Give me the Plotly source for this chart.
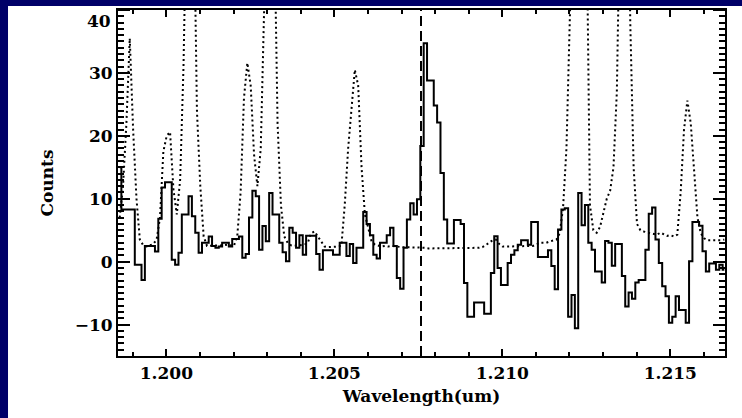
import plotly.graph_objects as go

# ---- data ----
wl_start = 1.19861      # centre of the first spectral bin (um)
wl_step = 0.0001        # bin width (um)
line_centre = 1.20758   # vertical dashed marker (um)

counts = [15, 8.3, 8.3, 8.3, 8.3, -0.5, -0.5, -2.9, 2.5, 2.5,
          2.5, 1.6, 6.8, 11.8, 12.6, 12.6, 0.3, -0.5, 1.4, 7.5,
          7.5, 10.4, 7.2, 4.6, 1.4, 3.0, 3.0, 4.0, 2.5, 2.2,
          2.4, 3.0, 3.0, 2.4, 3.6, 3.6, 4.0, 0.6, 1.2, 7.0,
          11.25, 10.4, 1.9, 5.65, 3.25, 10.9, 7.5, 7.5, 3.0, 1.5,
          0.05, 5.4, 4.6, 2.2, 4.2, 1.1, 4.1, 4.1, 4.1, 1.2,
          -1.3, 1.8, 1.8, 1.8, 1.1, 1.1, 3.0, 3.0, 0.9, 2.8,
          -0.2, 2.2, 2.2, 7.9, 6.0, 4.2, 1.1, 0.5, 3.0, 3.0,
          4.2, 5.4, 2.5, -2.6, -4.3, 2.2, 6.7, 9.3, 7.5, 9.9,
          18.4, 34.7, 28.8, 28.8, 24.8, 22.1, 14.1, 6.7, 2.9, 2.9,
          6.6, 6.6, 6.0, -3.4, -8.75, -8.75, -6.5, -6.5, -6.5, -8.3,
          -8.3, -1.8, 4.05, -1.0, -3.7, -3.7, -0.2, 1.1, 1.8, 2.7,
          3.4, 3.4, 2.7, 6.3, 6.3, 0.75, 0.75, 0.75, 1.8, -0.7,
          -4.4, 5.1, 8.3, 8.5, -8.75, -5.3, -10.6, 10.9, 5.8, 9.0,
          3.0, 1.9, -1.55, -1.55, -3.3, 3.3, 3.0, -0.65, 2.8, 2.8,
          -2.3, -7.15, -4.9, -5.9, -3.3, -2.9, -2.9, 1.9, 7.6, 8.6,
          3.5, -0.2, -3.9, -5.5, -9.7, -8.75, -5.5, -7.7, -7.7, -9.7,
          0.05, 6.3, 6.3, 5.7, 1.65, -1.55, -0.3, -0.3, -1.3, -0.5,
          -1.3]

sky = [7, 12, 22, 35.5, 21, 10, 3.5, 2.6, 2.4, 2.6,
       2.8, 3.5, 7.0, 17.5, 20.0, 20.6, 11.5, 7.5, 13.0, 31.0,
       60, 90, 60, 24, 12, 4.0, 2.5, 2.5, 2.6, 2.6,
       2.5, 2.6, 2.7, 2.6, 2.5, 4.0, 11.0, 26.0, 31.6, 28.0,
       17.0, 12.0, 18.0, 40.0, 90, 100, 55, 22, 9.0, 4.0,
       3.0, 2.6, 2.5, 2.6, 2.6, 2.7, 3.0, 4.5, 4.8, 4.0,
       3.0, 2.4, 2.3, 2.3, 2.3, 2.4, 2.5, 9.0, 17.9, 24.0,
       30.5, 28.0, 15.0, 7.5, 5.5, 3.2, 2.7, 2.5, 2.4, 2.5,
       2.4, 2.5, 2.4, 2.4, 2.3, 2.3, 2.3, 2.2, 2.2, 2.2,
       2.2, 2.2, 2.1, 2.1, 2.2, 2.1, 2.1, 2.2, 2.1, 2.1,
       2.2, 2.1, 2.2, 2.1, 2.1, 2.2, 2.2, 2.2, 2.3, 2.6,
       3.0, 3.4, 3.5, 2.8, 2.4, 2.4, 2.4, 2.4, 2.5, 2.4,
       2.4, 2.4, 2.4, 2.5, 2.7, 3.0, 3.0, 3.0, 3.2, 3.4,
       3.5, 4.5, 8.6, 18.0, 39.0, 70, 90, 100, 90, 55,
       9.0, 5.0, 4.6, 5.5, 8.0, 10.0, 11.25, 15.0, 27.0, 60,
       90, 80, 38, 15, 6.0, 5.0, 4.8, 4.6, 4.5, 4.4,
       4.3, 4.6, 4.3, 4.1, 4.2, 4.0, 4.3, 11.0, 21.0, 25.6,
       22.0, 14.0, 7.0, 4.5, 3.7, 3.4, 3.4, 3.3, 3.4, 3.4,
       3.5]

x_range = [1.19856, 1.21663]
y_range = [-15, 40]
x_ticks = [1.200, 1.205, 1.210, 1.215]
x_ticklabels = ["1.200", "1.205", "1.210", "1.215"]
y_ticks = [-10, 0, 10, 20, 30, 40]
y_ticklabels = ["\u221210", "0", "10", "20", "30", "40"]

wavelength = [wl_start + i * wl_step for i in range(len(counts))]

# ---- figure ----
fig = go.Figure()
fig.add_trace(go.Scatter(x=wavelength, y=sky, mode="lines",
                         line=dict(color="black", width=2, dash="2px,3px"),
                         hoverinfo="skip"))
fig.add_trace(go.Scatter(x=wavelength, y=counts, mode="lines",
                         line=dict(color="black", width=2, shape="hvh"),
                         hoverinfo="skip"))
fig.add_trace(go.Scatter(x=[line_centre, line_centre], y=y_range, mode="lines",
                         line=dict(color="black", width=2, dash="10px,5px"),
                         hoverinfo="skip"))

font_family = "DejaVu Serif"
tick_font = dict(family=font_family, size=17, color="black", weight="bold")
axis_common = dict(showgrid=False, zeroline=False, showline=True, linecolor="black",
                   linewidth=2, mirror="ticks", ticks="inside", tickcolor="black",
                   tickwidth=2, automargin=False)

fig.update_xaxes(range=x_range, tickmode="array", tickvals=x_ticks, ticktext=x_ticklabels,
                 ticklen=7, ticklabelstandoff=1,
                 minor=dict(dtick=0.001, tick0=1.2, ticks="inside", ticklen=4,
                            tickwidth=1.5, tickcolor="black"),
                 tickfont=tick_font,
                 title=dict(text="Wavelength(um)", standoff=8,
                            font=dict(family=font_family, size=17, color="black", weight="bold")),
                 **axis_common)
# the top label (40) sits just inside the frame in the reference, so it is
# written as an annotation at the same tick value instead of a tick label
fig.update_yaxes(range=y_range, tickmode="array", tickvals=y_ticks[:-1],
                 ticktext=y_ticklabels[:-1],
                 ticklen=12,
                 minor=dict(dtick=1, tick0=0, ticks="inside", ticklen=6,
                            tickwidth=1.5, tickcolor="black"),
                 tickfont=tick_font,
                 title=dict(text="Counts", standoff=17,
                            font=dict(family=font_family, size=17, color="black", weight="bold")),
                 **axis_common)
fig.add_annotation(xref="paper", yref="y", x=0, y=y_ticks[-1], text=y_ticklabels[-1],
                   showarrow=False, xanchor="right", yanchor="top", xshift=-5, yshift=1,
                   font=tick_font)
# major tick for 40 (label drawn by the annotation above)
fig.add_shape(type="line", xref="paper", yref="y", x0=0, x1=0.0198, y0=40, y1=40,
              line=dict(color="black", width=2))
fig.add_shape(type="line", xref="paper", yref="y", x0=0.9802, x1=1, y0=40, y1=40,
              line=dict(color="black", width=2))

navy = "#000068"
fig.add_shape(type="rect", xref="paper", yref="paper", x0=-0.25, x1=-0.1812,
              y0=-0.3, y1=1.1, fillcolor=navy, line=dict(width=0), layer="below")
fig.add_shape(type="rect", xref="paper", yref="paper", x0=-0.25, x1=1.1,
              y0=1.0116, y1=1.1, fillcolor=navy, line=dict(width=0), layer="below")

fig.update_layout(
    width=742, height=418,
    margin=dict(l=118, r=17, t=10, b=62),
    paper_bgcolor="white", plot_bgcolor="white",
    showlegend=False,
)

fig.write_html("out.html")
